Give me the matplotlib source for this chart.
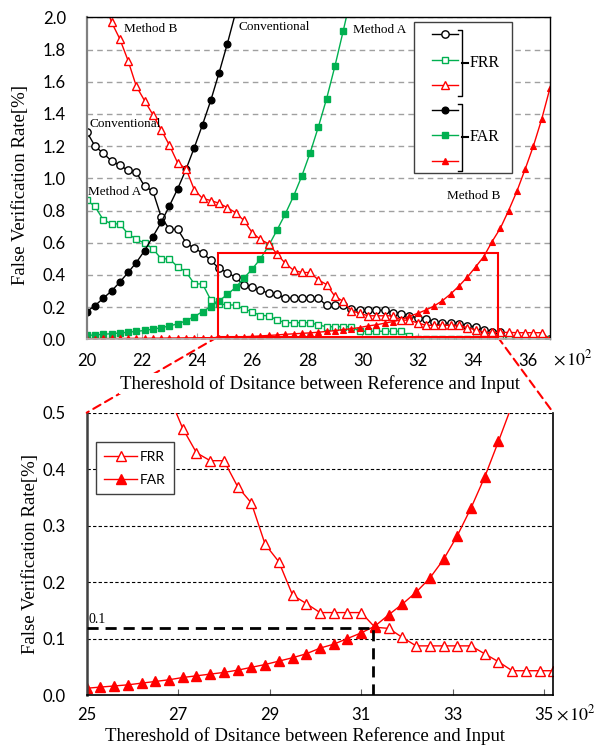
import numpy as np
import matplotlib.pyplot as plt
from matplotlib.lines import Line2D
from matplotlib.patches import Rectangle, ConnectionPatch

plt.rcParams['font.family'] = ['Lato', 'DejaVu Sans']
plt.rcParams['mathtext.fontset'] = 'stix'
SERIF = 'Liberation Serif'

# ---- data (threshold in units of 10^2) ----
thr_top = np.arange(2000, 3681, 30) / 100      # 20.0 ... 36.8
thr_zoom = np.arange(2500, 3521, 30) / 100     # 25.0 ... 35.2

conv_frr = [1.29, 1.20, 1.155, 1.108, 1.08, 1.05, 1.037, 0.95, 0.92,
            0.76, 0.683, 0.683, 0.60, 0.565, 0.537, 0.49, 0.44, 0.414, 0.385,
            0.337, 0.324, 0.304, 0.287, 0.28, 0.255, 0.255, 0.255, 0.255, 0.255,
            0.21, 0.21, 0.21, 0.19, 0.18, 0.18, 0.18, 0.18, 0.165, 0.16, 0.145,
            0.135, 0.124, 0.11, 0.10, 0.10, 0.097, 0.085, 0.078, 0.06, 0.048,
            0.045, 0.0, 0.0, 0.0, 0.0, 0.0, 0.0]
conv_far = [0.172, 0.209, 0.255, 0.30, 0.355, 0.415, 0.477, 0.551, 0.638,
            0.726, 0.829, 0.935, 1.055, 1.19, 1.333, 1.484, 1.655, 1.836, 2.03]

a_frr = [0.865, 0.825, 0.742, 0.717, 0.717, 0.654, 0.622, 0.597, 0.563,
         0.50, 0.50, 0.45, 0.42, 0.344, 0.344, 0.244, 0.22, 0.213, 0.213,
         0.187, 0.172, 0.147, 0.147, 0.12, 0.103, 0.103, 0.103, 0.103, 0.089,
         0.078, 0.078, 0.078, 0.078, 0.05, 0.05, 0.05, 0.05, 0.05, 0.05, 0.02,
         0.0, 0.0, 0.0, 0.0, 0.0, 0.0, 0.0, 0.0, 0.0, 0.0, 0.0, 0.0, 0.0, 0.0,
         0.0, 0.0, 0.0]
a_far = [0.024, 0.027, 0.031, 0.035, 0.039, 0.044, 0.049, 0.055, 0.063,
         0.072, 0.083, 0.096, 0.115, 0.141, 0.172, 0.203, 0.238, 0.279, 0.322,
         0.38, 0.436, 0.50, 0.582, 0.678, 0.778, 0.889, 1.014, 1.157, 1.319,
         1.495, 1.696, 1.914, 2.14]

b_frr = [2.42, 2.27, 2.12, 1.97, 1.866, 1.731, 1.571, 1.482, 1.395, 1.302,
         1.205, 1.095, 1.06, 0.929, 0.875, 0.862, 0.845, 0.818, 0.786, 0.738,
         0.663, 0.62, 0.593, 0.53,
         0.472, 0.429, 0.415, 0.415, 0.369, 0.340, 0.267, 0.236, 0.177, 0.162,
         0.146, 0.146, 0.146, 0.146, 0.12, 0.118, 0.102, 0.087, 0.087, 0.087,
         0.087, 0.087, 0.073, 0.059, 0.043, 0.043, 0.043, 0.043,
         0.041, 0.041, 0.041, 0.041, 0.0]
b_far = [0.004, 0.004, 0.005, 0.005, 0.005, 0.006, 0.006, 0.006, 0.007,
         0.007, 0.008, 0.008, 0.009, 0.009, 0.010, 0.010, 0.011,
         0.012, 0.014, 0.016, 0.018, 0.021, 0.024, 0.027, 0.031, 0.034, 0.037,
         0.040, 0.044, 0.049, 0.054, 0.060, 0.066, 0.073, 0.083, 0.090, 0.100,
         0.110, 0.122, 0.142, 0.161, 0.182, 0.207, 0.240, 0.282, 0.331, 0.386,
         0.449, 0.514, 0.607, 0.69, 0.80, 0.92, 1.057, 1.202, 1.368, 1.561]

zoom_from, zoom_to = 17, 52          # Method B points shown in the lower panel
eer_x, eer_y = 31.25, 0.118          # crossing of FRR and FAR (Method B)

BLACK, GREEN, RED = 'black', '#00B050', '#FF0000'

W, H = 603, 746
fig = plt.figure(figsize=(W / 100, H / 100), dpi=100)


def px_box(l, t, r, b):
    return [l / W, 1 - b / H, (r - l) / W, (b - t) / H]


ax1 = fig.add_axes(px_box(86.7, 17.3, 550, 339.3))
ax2 = fig.add_axes(px_box(86.7, 412.7, 553.3, 695))
ax1.set_zorder(2)
ax1.patch.set_alpha(0)

# ---------------- upper panel ----------------
ax1.plot(thr_top, conv_frr, '-o', color=BLACK, lw=1, ms=5.3, mfc='white', mew=1)
ax1.plot(thr_top, a_frr, '-s', color=GREEN, lw=1, ms=4.8, mfc='white', mew=1)
ax1.plot(thr_top[:len(conv_far)], conv_far, '-o', color=BLACK, lw=1, ms=4.8)
ax1.plot(thr_top[:len(a_far)], a_far, '-s', color=GREEN, lw=1, ms=4.8)
ax1.plot(thr_top, b_far, '-^', color=RED, lw=1, ms=5, mew=0.8)
ax1.plot(thr_top, b_frr, '-^', color=RED, lw=1, ms=5.8, mfc='white', mew=1)

ax1.set_xlim(20, 36.8)
ax1.set_ylim(0, 2.0)
ax1.set_xticks(np.arange(20, 37, 2))
ax1.set_yticks(np.arange(0, 2.01, 0.2))
ax1.yaxis.set_major_formatter(plt.FormatStrFormatter('%.1f'))
ax1.yaxis.grid(True, color='#a0a0a0', ls=(0, (4, 3)), lw=1)
ax1.set_axisbelow(True)
for s in ('top', 'right'):
    ax1.spines[s].set_color('black')
    ax1.spines[s].set_linewidth(1)
ax1.spines['left'].set_color('#808080')
ax1.spines['left'].set_linewidth(1.6)
ax1.spines['bottom'].set_color('#b0b0b0')
ax1.spines['bottom'].set_linewidth(1.3)
ax1.tick_params(axis='x', direction='in', length=4, color='#a0a0a0', pad=10, labelsize=12)
ax1.tick_params(axis='y', length=0, pad=15, labelsize=12)
ax1.text(1.006, -0.058, r'$\times\,10^2$', transform=ax1.transAxes, ha='left', va='center',
         fontsize=13)

ax1.set_xlabel('Thereshold of Dsitance between Reference and Input', family=SERIF, fontsize=13.5,
               bbox=dict(facecolor='white', edgecolor='none', pad=1))
ax1.xaxis.set_label_coords(0.504, -0.11)
ax1.set_ylabel('False Verification Rate[%]', family=SERIF, fontsize=13.5)
ax1.yaxis.set_label_coords(-0.125, 0.48)

txt = dict(family=SERIF, fontsize=9.5, ha='left', va='center')
ax1.text(21.36, 1.93, 'Method B', **txt)
ax1.text(25.5, 1.94, 'Conventional', **txt)
ax1.text(29.64, 1.924, 'Method A', **txt)
ax1.text(20.09, 1.34, 'Conventional', **txt)
ax1.text(20.06, 0.912, 'Method A', **txt)
ax1.text(33.07, 0.887, 'Method B', **txt)

# zoom rectangle
rx0, rx1, ry0, ry1 = 24.75, 34.9, 0.015, 0.535
ax1.add_patch(Rectangle((rx0, ry0), rx1 - rx0, ry1 - ry0, fill=False, ec=RED, lw=1.5, zorder=5))

# bracket legend
T = ax1.transAxes
ax1.add_patch(Rectangle((0.707, 0.517), 0.212, 0.467, transform=T, fc='white',
                        ec='#404040', lw=1, zorder=6))
rows = [0.947, 0.867, 0.790, 0.712, 0.635, 0.555]
styles = [dict(color=BLACK, marker='o', ms=5.3, mfc='white'),
          dict(color=GREEN, marker='s', ms=4.8, mfc='white'),
          dict(color=RED, marker='^', ms=5.8, mfc='white'),
          dict(color=BLACK, marker='o', ms=4.8),
          dict(color=GREEN, marker='s', ms=4.8),
          dict(color=RED, marker='^', ms=5)]
for yy, st in zip(rows, styles):
    ax1.add_line(Line2D([0.746, 0.802], [yy, yy], transform=T, lw=1, color=st['color'],
                        zorder=7))
    ax1.add_line(Line2D([0.774], [yy], transform=T, lw=0, mew=1, zorder=7, **st))
for (yt, yb, lab) in [(0.961, 0.756, 'FRR'), (0.730, 0.524, 'FAR')]:
    ym = (yt + yb) / 2
    ax1.add_line(Line2D([0.801, 0.810, 0.810, 0.801], [yt, yt, yb, yb], transform=T,
                        color='black', lw=1, zorder=7))
    ax1.add_line(Line2D([0.810, 0.823], [ym, ym], transform=T, color='black', lw=1.5, zorder=7))
    ax1.text(0.826, ym, lab, transform=T, family=SERIF, fontsize=11.5, ha='left', va='center',
             zorder=7)

# ---------------- lower panel ----------------
zx = thr_zoom
ax2.plot(zx, b_frr[zoom_from:zoom_to], '-^', color=RED, lw=1, ms=7.5, mfc='white', mew=1,
         label='FRR')
ax2.plot(zx, b_far[zoom_from:zoom_to], '-^', color=RED, lw=1, ms=7.5, mew=1, label='FAR')
ax2.plot([25, eer_x], [eer_y, eer_y], color='black', lw=2, ls=(0, (4, 2.5)), zorder=4)
ax2.plot([eer_x, eer_x], [0, eer_y], color='black', lw=2, ls=(0, (4, 2.5)), zorder=4)
ax2.text(25.05, eer_y + 0.004, '0.1', family=SERIF, fontsize=10, ha='left', va='bottom')

ax2.set_xlim(25, 35.2)
ax2.set_ylim(0, 0.5)
ax2.set_xticks(np.arange(25, 36, 2))
ax2.set_yticks(np.arange(0, 0.51, 0.1))
ax2.yaxis.set_major_formatter(plt.FormatStrFormatter('%.1f'))
ax2.yaxis.grid(True, color='black', ls=(0, (3, 2)), lw=0.8)
ax2.set_axisbelow(True)
ax2.spines['top'].set_visible(False)
ax2.spines['left'].set_color('#404040')
ax2.spines['left'].set_linewidth(1.8)
for s in ('bottom', 'right'):
    ax2.spines[s].set_color('black')
    ax2.spines[s].set_linewidth(1.2)
ax2.tick_params(axis='x', direction='in', length=4, color='#606060', pad=9, labelsize=12)
ax2.tick_params(axis='y', length=0, pad=15, labelsize=12)
ax2.text(1.006, -0.064, r'$\times\,10^2$', transform=ax2.transAxes, ha='left', va='center',
         fontsize=13)
ax2.set_xlabel('Thereshold of Dsitance between Reference and Input', family=SERIF, fontsize=13.5)
ax2.xaxis.set_label_coords(0.467, -0.113)
ax2.set_ylabel('False Verification Rate[%]', family=SERIF, fontsize=13.5)
ax2.yaxis.set_label_coords(-0.102, 0.5)

leg = ax2.legend(loc='upper left', bbox_to_anchor=(0.019, 0.895), borderaxespad=0,
                 fancybox=False, edgecolor='#404040', framealpha=1, fontsize=10,
                 handlelength=2.4, handletextpad=0.2, labelspacing=0.8, borderpad=0.6)
leg.get_frame().set_linewidth(1)

# dashed connectors between the two panels
for xa, xb in [(rx0, 0), (rx1, 1)]:
    con = ConnectionPatch(xyA=(xa, ry0), coordsA=ax1.transData, xyB=(xb, 1),
                          coordsB=ax2.transAxes, color=RED, lw=1.5, ls=(0, (4, 2.5)))
    con.set_zorder(1)
    fig.add_artist(con)

fig.savefig('out.png', dpi=100)
